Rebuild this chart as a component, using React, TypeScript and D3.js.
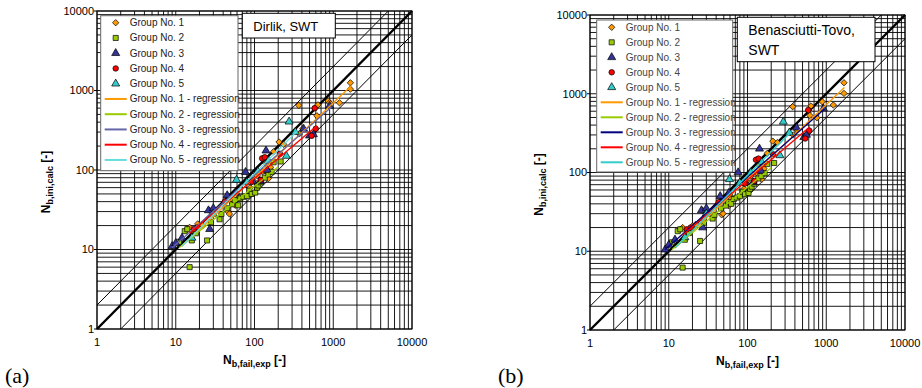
import React from 'react';
import * as d3 from 'd3';

// legend / series labels
const groupNames = ['Group No. 1', 'Group No. 2', 'Group No. 3', 'Group No. 4', 'Group No. 5'];
const groupFill = ['#FF9900', '#99CC00', '#333399', '#FF0000', '#33CCCC'];
const regColorA = ['#FF9900', '#99CC00', '#6666AA', '#FF0000', '#66DDDD'];
const regColorB = ['#FF9900', '#99CC00', '#000080', '#FF0000', '#33CCCC'];
const tickValues = [1, 10, 100, 1000, 10000];

// panel (a) Dirlik, SWT  [N_fail_exp, N_ini_calc]
const g1a = [[14, 18], [15, 19], [17, 17], [19, 21], [22, 20], [27, 31], [46, 30], [48, 28], [53, 38], [57, 36], [62, 44], [88, 60], [98, 72], [108, 85], [128, 96], [140, 120], [150, 78], [160, 108], [175, 170], [205, 225], [235, 210], [365, 650], [370, 285], [410, 330], [600, 610], [620, 480], [640, 660], [860, 740], [900, 700], [1200, 700], [1650, 1250], [1650, 1040]];
const g2a = [[11, 12.5], [13, 17], [14, 18], [15, 6], [16, 13], [18, 16], [25, 13], [28, 22], [36, 24], [38, 28], [45, 33], [52, 37], [56, 42], [62, 36], [66, 44], [72, 46], [80, 47], [86, 55], [92, 50], [102, 52], [108, 60], [112, 64], [120, 70], [135, 80], [150, 88], [165, 95], [175, 125], [215, 128]];
const g3a = [[9, 11], [10, 12], [12, 14], [26, 31], [27, 18], [30, 33], [45, 48], [58, 52], [77, 94], [95, 72], [118, 72], [140, 175], [145, 100], [420, 330], [500, 270], [560, 280], [900, 640]];
const g4a = [[17, 18], [19, 19], [42, 40], [90, 70], [120, 75], [125, 140], [135, 145], [210, 160], [530, 270], [580, 600], [600, 330]];
const g5a = [[16, 14], [30, 28], [59, 75], [80, 70], [110, 95], [150, 130], [254, 150], [275, 405], [330, 300]];
// regression lines: [x0, y0, x1, y1]
const regA = [[12, 11, 1700, 1150], [11, 10.5, 200, 110], [9, 10.5, 950, 620], [15, 16, 620, 360], [12, 11, 360, 320]];

// panel (b) Benasciutti-Tovo, SWT
const g1b = [[14, 19], [15, 20], [17, 18], [20, 21], [22, 22], [27, 33], [47, 29], [49, 30], [55, 40], [58, 38], [62, 46], [90, 62], [100, 75], [110, 90], [130, 100], [142, 125], [152, 82], [162, 112], [178, 175], [210, 250], [240, 240], [375, 685], [380, 300], [420, 350], [605, 600], [620, 530], [640, 700], [760, 495], [890, 790], [1230, 720], [1680, 1380], [1680, 1010]];
const g2b = [[11, 13], [13, 18], [14, 19], [15, 6.2], [16, 14], [18, 17], [25, 13.5], [28, 23], [36, 26], [38, 29], [46, 35], [53, 38], [57, 42], [62, 40], [67, 46], [73, 48], [80, 50], [87, 57], [93, 53], [103, 55], [108, 62], [113, 66], [122, 72], [137, 84], [150, 90], [165, 98], [178, 128], [218, 132]];
const g3b = [[9, 10.5], [10, 12], [12, 14], [26, 33], [27, 20], [30, 35], [45, 50], [58, 55], [76, 100], [95, 75], [118, 75], [142, 200], [148, 105], [420, 370], [520, 280], [560, 300], [920, 650]];
const g4b = [[17, 19], [19, 20], [43, 42], [92, 72], [122, 78], [128, 145], [138, 150], [212, 170], [540, 270], [590, 620], [610, 340]];
const g5b = [[16, 15], [30, 30], [59, 82], [80, 74], [110, 100], [152, 135], [258, 165], [285, 440], [340, 320]];
const regB = [[12, 11, 1700, 1200], [11, 10.5, 200, 115], [9, 10.5, 950, 640], [15, 16, 620, 380], [12, 11, 360, 330]];

const FONT = "'Liberation Sans', Arial, sans-serif";

const symbolTypes = [d3.symbolDiamond2, d3.symbolSquare, d3.symbolTriangle, d3.symbolCircle, d3.symbolTriangle];
const symbolSizes = [26, 26, 28, 24, 28];
function symPath(i) {
  return d3.symbol().type(symbolTypes[i]).size(symbolSizes[i])();
}

// grid values 1..9 per decade
const gridVals = [];
for (let d = 1; d < 10000; d *= 10) for (let k = 1; k < 10; k++) gridVals.push(d * k);
gridVals.push(10000);

function Panel(props) {
  const { left, top, right, bottom, groups, reg, regColors, legend, title, tag } = props;
  const x = d3.scaleLog().domain([1, 10000]).range([left, right]);
  const y = d3.scaleLog().domain([1, 10000]).range([bottom, top]);
  const diag = [[1, 1, 10000, 10000, 2.4], [1, 2, 5000, 10000, 1], [2, 1, 10000, 5000, 1]];
  const rowH = legend.rowH;

  return (
    <g>
      {/* grid */}
      {gridVals.map((v, i) => (
        <line key={'h' + i} x1={left} x2={right} y1={y(v)} y2={y(v)} stroke="#000" strokeWidth={0.9} />
      ))}
      {gridVals.map((v, i) => (
        <line key={'v' + i} y1={top} y2={bottom} x1={x(v)} x2={x(v)} stroke="#000" strokeWidth={0.9} />
      ))}
      <rect x={left} y={top} width={right - left} height={bottom - top} fill="none" stroke="#000" strokeWidth={1} />

      {/* 1:1 and factor 2 lines */}
      {diag.map((d, i) => (
        <line key={'d' + i} x1={x(d[0])} y1={y(d[1])} x2={x(d[2])} y2={y(d[3])} stroke="#000" strokeWidth={d[4]} />
      ))}

      {/* points */}
      {groups.map((pts, gi) =>
        pts.map((p, j) => (
          <path key={gi + '-' + j} d={symPath(gi)} transform={`translate(${x(p[0])},${y(p[1])})`}
            fill={groupFill[gi]} stroke="#000" strokeWidth={0.7} />
        ))
      )}

      {/* regression */}
      {reg.map((r, i) => (
        <line key={'r' + i} x1={x(r[0])} y1={y(r[1])} x2={x(r[2])} y2={y(r[3])} stroke={regColors[i]} strokeWidth={1.3} />
      ))}

      {/* axes ticks + labels */}
      {tickValues.map(v => (
        <g key={'yt' + v} fontFamily={FONT} fontSize={11} fill="#000">
          <line x1={left - 3} x2={left} y1={y(v)} y2={y(v)} stroke="#000" />
          <text x={left - 3} y={y(v)} dy="0.35em" textAnchor="end">{v}</text>
          <text x={x(v)} y={bottom + 17} textAnchor="middle">{v}</text>
        </g>
      ))}

      {/* axis titles */}
      <text x={(left + right) / 2} y={bottom + 35} textAnchor="middle" fontFamily={FONT} fontWeight="bold" fontSize={12}>
        N<tspan fontSize={9} dy={3}>b,fail,exp</tspan><tspan dy={-3}> [-]</tspan>
      </text>
      <text transform={`translate(${left - 47},${(top + bottom) / 2 + 12}) rotate(-90)`} textAnchor="middle"
        fontFamily={FONT} fontWeight="bold" fontSize={12}>
        N<tspan fontSize={9} dy={3}>b,ini,calc</tspan><tspan dy={-3}> [-]</tspan>
      </text>

      {/* legend */}
      <rect x={legend.x} y={legend.y} width={legend.w} height={legend.h} fill="#fff" stroke="#666" strokeWidth={1} />
      {groupNames.map((n, i) => {
        const cy = legend.y + legend.first + i * rowH;
        return (
          <g key={'lg' + i}>
            <path d={symPath(i)} transform={`translate(${legend.x + 15},${cy})`} fill={groupFill[i]} stroke="#000" strokeWidth={0.7} />
            <text x={legend.x + 29} y={cy} dy="0.35em" fontFamily={FONT} fontSize={10} fill={legend.color}>{n}</text>
          </g>
        );
      })}
      {groupNames.map((n, i) => {
        const cy = legend.y + legend.first + (i + 5) * rowH;
        return (
          <g key={'lr' + i}>
            <line x1={legend.x + 4} x2={legend.x + 26} y1={cy} y2={cy} stroke={regColors[i]} strokeWidth={2} />
            <text x={legend.x + 29} y={cy} dy="0.35em" fontFamily={FONT} fontSize={10} fill={legend.color}>{n + ' - regression'}</text>
          </g>
        );
      })}

      {/* title box */}
      <rect x={title.x} y={title.y} width={title.w} height={title.h} fill="#fff" stroke="#000" strokeWidth={1} />
      {title.lines.map((t, i) => (
        <text key={'t' + i} x={title.x + 11} y={title.y + title.base + i * 20} fontFamily={FONT} fontSize={title.size}>{t}</text>
      ))}

      <text x={tag.x} y={tag.y} fontFamily="'Liberation Serif', 'Times New Roman', serif" fontSize={22}>{tag.text}</text>
    </g>
  );
}

export default function App() {
  return (
    <svg width={922} height={388} style={{ position: 'absolute', left: 0, top: 0, background: '#fff' }}>
      <rect width={922} height={388} fill="#fff" />
      <Panel left={97} right={412} top={11} bottom={329}
        groups={[g1a, g2a, g3a, g4a, g5a]} reg={regA} regColors={regColorA}
        legend={{ x: 100.7, y: 15.7, w: 137.3, h: 155, first: 7, rowH: 15.25, color: '#222' }}
        title={{ x: 242.3, y: 13.3, w: 93, h: 24.7, base: 17.5, size: 13, lines: ['Dirlik, SWT'] }}
        tag={{ x: 5, y: 383, text: '(a)' }} />
      <Panel left={590} right={905} top={15} bottom={330}
        groups={[g1b, g2b, g3b, g4b, g5b]} reg={regB} regColors={regColorB}
        legend={{ x: 596.7, y: 20, w: 136, h: 152, first: 7.3, rowH: 15, color: '#444' }}
        title={{ x: 737.3, y: 17.3, w: 137.7, h: 44.4, base: 18, size: 14, lines: ['Benasciutti-Tovo,', 'SWT'] }}
        tag={{ x: 498, y: 383, text: '(b)' }} />
    </svg>
  );
}
